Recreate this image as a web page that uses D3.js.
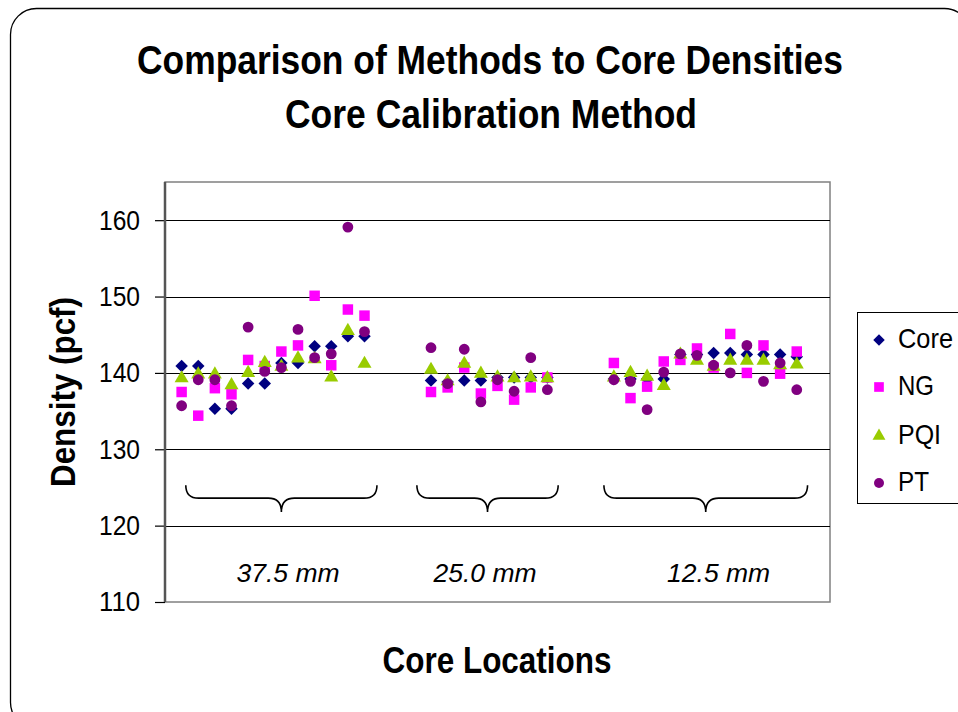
<!DOCTYPE html>
<html><head><meta charset="utf-8">
<script src="https://cdn.jsdelivr.net/npm/d3@7"></script>
<style>
html,body{margin:0;padding:0;background:#fff;}
svg{display:block;}
text{font-family:"Liberation Sans Narrow","Arial Narrow","Liberation Sans",sans-serif;}
</style></head>
<body>
<svg id="chart" width="958" height="712"></svg>
<script>
// ---- data ----
const positions = [1,2,3,4,5,6,7,8,9,10,11,12, 16,17,18,19,20,21,22,23, 27,28,29,30,31,32,33,34,35,36,37,38];
const seriesNames = ["Core","NG","PQI","PT"];
const coreVals = [140.9,140.9,135.3,135.3,138.6,138.6,141.3,141.3,143.5,143.5,144.8,144.8,
                  139.0,138.8,139.0,139.0,139.4,139.4,139.4,139.4,
                  139.2,139.2,139.2,139.2,142.4,142.4,142.6,142.6,142.4,142.4,142.4,142.1];
const ngVals   = [137.5,134.4,138.0,137.2,141.7,140.9,142.8,143.6,150.1,141.0,148.3,147.5,
                  137.5,138.1,140.7,137.3,138.3,136.5,138.1,139.4,
                  141.3,136.7,138.2,141.5,141.7,143.2,140.7,145.1,140.0,143.6,139.9,142.8];
const pqiVals  = [139.5,140.0,140.0,138.6,140.2,141.5,141.0,142.1,142.0,139.6,145.7,141.4,
                  140.6,139.1,141.4,140.1,139.6,139.5,139.6,139.5,
                  139.6,140.2,139.7,138.5,142.6,141.8,141.0,141.8,141.8,141.8,141.2,141.3];
const ptVals   = [135.7,139.1,139.1,135.7,146.0,140.2,140.7,145.7,142.0,142.5,159.1,145.4,
                  143.3,138.6,143.1,136.2,139.1,137.6,142.0,137.8,
                  139.1,138.9,135.2,140.1,142.5,142.3,141.0,140.0,143.6,138.9,141.3,137.8];
const yTicks = [110,120,130,140,150,160];
const groupLabels = ["37.5 mm","25.0 mm","12.5 mm"];
const groupBraceFrom = [1.25,15.15,26.4];
const groupBraceTo   = [12.75,23.65,38.65];
const groupLabelAt   = [7.4,19.25,33.3];
const titleLines = ["Comparison of Methods to Core Densities","Core Calibration Method"];
const xTitle = "Core Locations";
const yTitle = "Density (pcf)";

const colors = {Core:"#000080", NG:"#FF00FF", PQI:"#99CC00", PT:"#800080"};
const symbols = {Core:d3.symbolSquare, NG:d3.symbolSquare, PQI:d3.symbolTriangle, PT:d3.symbolCircle};
const symRot = {Core:45, NG:0, PQI:0, PT:0};
const symSizes = {Core:78, NG:110, PQI:85, PT:92};
const legendWidths = {Core:55, NG:36, PQI:43, PT:31};

const svg = d3.select("#chart");
const L=165, R=830, T=182, B=602;
const x = d3.scaleLinear().domain([0,40]).range([L,R]);
const y = d3.scaleLinear().domain([110,165]).range([B,T]);

function fit(sel, w){ return sel.attr("textLength",w).attr("lengthAdjust","spacingAndGlyphs"); }

// outer rounded border
svg.append("rect").attr("x",10.5).attr("y",8.5).attr("width",960).attr("height",720)
  .attr("rx",26).attr("fill","none").attr("stroke","#000").attr("stroke-width",1.3);

// title
fit(svg.append("text").attr("x",490).attr("y",74).attr("text-anchor","middle")
  .attr("font-size",40).attr("font-weight","bold").text(titleLines[0]), 706);
fit(svg.append("text").attr("x",491).attr("y",128).attr("text-anchor","middle")
  .attr("font-size",40).attr("font-weight","bold").text(titleLines[1]), 412);

// plot area
svg.append("rect").attr("x",L).attr("y",T).attr("width",R-L).attr("height",B-T)
  .attr("fill","#fff").attr("stroke","#808080").attr("stroke-width",1.5);

// gridlines
svg.append("g").selectAll("line").data(yTicks.filter(t=>t>110)).join("line")
  .attr("x1",L).attr("x2",R).attr("y1",d=>Math.round(y(d))+0.5).attr("y2",d=>Math.round(y(d))+0.5)
  .attr("stroke","#000").attr("stroke-width",1.2);

// y axis
const yAxis = svg.append("g").attr("transform",`translate(${L},0)`)
  .call(d3.axisLeft(y).tickValues(yTicks).tickSize(10).tickPadding(15).tickFormat(d3.format("d")));
yAxis.select(".domain").remove();
yAxis.selectAll(".tick line").attr("stroke","#000").attr("stroke-width",1.2);
yAxis.selectAll(".tick text").attr("font-size",28).attr("fill","#000")
  .attr("textLength",41).attr("lengthAdjust","spacingAndGlyphs")
  .style("font-family",'"Liberation Sans Narrow","Arial Narrow","Liberation Sans",sans-serif');
svg.append("line").attr("x1",L).attr("x2",L).attr("y1",T).attr("y2",B)
  .attr("stroke","#555").attr("stroke-width",2.5);

// braces
const braceTop = y(125.3), braceMid = y(123.6), braceTip = y(121.8);
function bracePath(a,b){
  const x0=x(a), x1=x(b), xc=(x0+x1)/2, r=13;
  return `M${x0},${braceTop} Q${x0},${braceMid} ${x0+r},${braceMid} L${xc-r},${braceMid} Q${xc},${braceMid} ${xc},${braceTip} Q${xc},${braceMid} ${xc+r},${braceMid} L${x1-r},${braceMid} Q${x1},${braceMid} ${x1},${braceTop}`;
}
svg.append("g").selectAll("path").data(groupLabels).join("path")
  .attr("d",(d,i)=>bracePath(groupBraceFrom[i],groupBraceTo[i]))
  .attr("fill","none").attr("stroke","#000").attr("stroke-width",1.6);
svg.append("g").selectAll("text").data(groupLabels).join("text")
  .attr("x",(d,i)=>x(groupLabelAt[i])).attr("y",y(112.6)).attr("text-anchor","middle")
  .attr("font-size",26).attr("font-style","italic")
  .attr("textLength",103).attr("lengthAdjust","spacingAndGlyphs").text(d=>d);

// series
const seriesData = {Core:coreVals, NG:ngVals, PQI:pqiVals, PT:ptVals};
seriesNames.forEach(name=>{
  const sym = d3.symbol().type(symbols[name]).size(symSizes[name]);
  svg.append("g").selectAll("path").data(seriesData[name]).join("path")
    .attr("d",sym)
    .attr("transform",(v,i)=>`translate(${x(positions[i])},${y(v) + (name==="PQI"?1.5:0)}) rotate(${symRot[name]})`)
    .attr("fill",colors[name]);
});

// axis titles
fit(svg.append("text").attr("x",497).attr("y",673).attr("text-anchor","middle")
  .attr("font-size",37).attr("font-weight","bold").text(xTitle), 229);
fit(svg.append("text").attr("transform","translate(75,392) rotate(-90)").attr("text-anchor","middle")
  .attr("font-size",35).attr("font-weight","bold").text(yTitle), 190);

// legend
const lg = svg.append("g");
lg.append("rect").attr("x",857.5).attr("y",312.5).attr("width",130).attr("height",191)
  .attr("fill","#fff").attr("stroke","#000").attr("stroke-width",1);
const legendY = [340,387,436,483];
seriesNames.forEach((name,i)=>{
  lg.append("path").attr("d",d3.symbol().type(symbols[name]).size(symSizes[name]*0.85)())
    .attr("transform",`translate(879,${legendY[i]}) rotate(${symRot[name]})`).attr("fill",colors[name]);
  fit(lg.append("text").attr("x",898).attr("y",legendY[i]+8).attr("font-size",28).text(name), legendWidths[name]);
});
</script>
</body></html>
